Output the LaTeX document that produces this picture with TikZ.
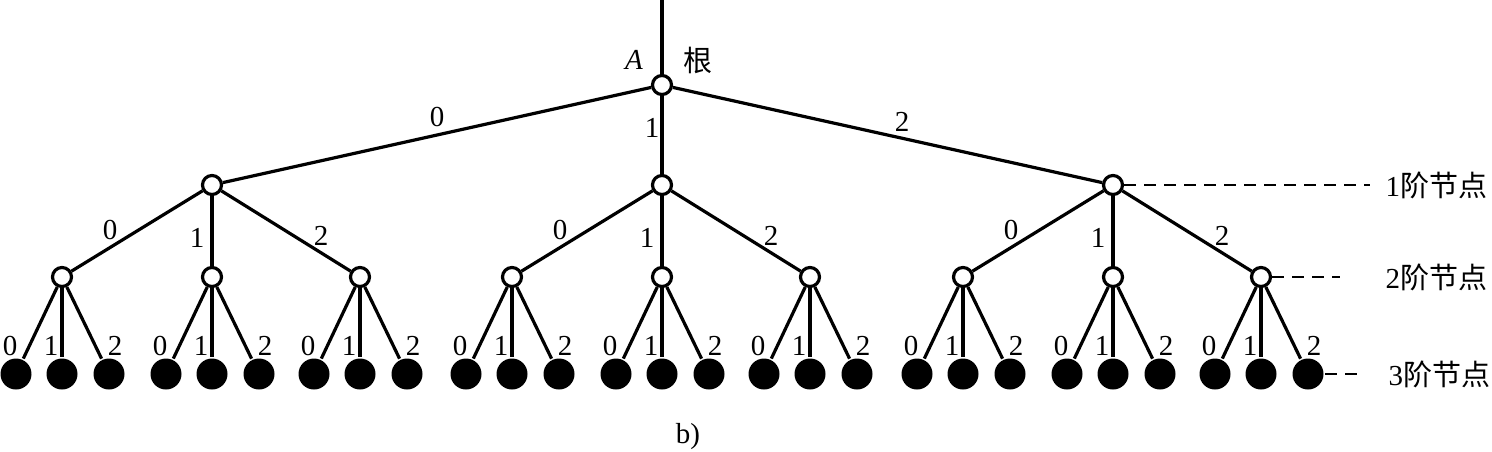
\documentclass[tikz,border=0pt]{standalone}
\usepackage{fontspec}
\setmainfont{Liberation Serif}
\newfontfamily\cjk{Noto Sans CJK SC}
\usetikzlibrary{positioning}

\begin{document}
\begin{tikzpicture}[x=0.5pt,y=-0.5pt,line width=1.6pt,
    hollow/.style={circle,draw,fill=white,inner sep=0pt,minimum size=9.5pt},
    leaf/.style={circle,fill=black,inner sep=0pt,minimum size=15.5pt},
    lab/.style={font=\fontsize{14.5}{17}\selectfont,inner sep=0pt},
    guide/.style={dashed,line width=0.7pt,dash pattern=on 6pt off 4pt}]
    \useasboundingbox (0,0) rectangle (1492,451);
    % root
    \node[hollow] (A) at (662,85) {};
    \coordinate (top) at (662,0);
    \draw (top) -- (A);
    \node[lab] at (634,60) {\textit{A}};
    \node[lab] at (698,60) {\cjk 根};
    % first level
    \foreach \i/\x in {0/212,1/662,2/1113} {
        \node[hollow] (n\i) at (\x,185) {};
        \draw (A) -- (n\i);
    }
    \node[lab] at (437,117) {0};
    \node[lab] at (652,128) {1};
    \node[lab] at (902,122) {2};
    % second and third level
    \foreach \i in {0,1,2} {
        \foreach \j/\dx/\lx/\ly in {0/-150/-102/45,1/0/-15/53,2/148/109/51} {
            \path (n\i) ++(\dx,92) node[hollow] (n\i\j) {};
            \draw (n\i) -- (n\i\j);
            \path (n\i) ++(\lx,\ly) node[lab] {\j};
            \foreach \k/\ex/\kx in {0/-46/-52,1/0/-11,2/47/53} {
                \path (n\i\j) ++(\ex,97) node[leaf] (n\i\j\k) {};
                \draw (n\i\j) -- (n\i\j\k);
                \path (n\i\j) ++(\kx,69) node[lab] {\k};
            }
        }
    }
    % order marks
    \coordinate (g1) at (1370,185);
    \coordinate (g2) at (1340,277);
    \coordinate (g3) at (1365,374);
    \draw[guide] (n2) -- (g1);
    \draw[guide] (n22) -- (g2);
    \draw[guide] (n222) -- (g3);
    \node[lab,anchor=west] at (1384,185) {1{\cjk 阶节点}};
    \node[lab,anchor=west] at (1384,277) {2{\cjk 阶节点}};
    \node[lab,anchor=west] at (1387,374) {3{\cjk 阶节点}};
    \node[lab] at (688,437) {b)};
\end{tikzpicture}
\end{document}
